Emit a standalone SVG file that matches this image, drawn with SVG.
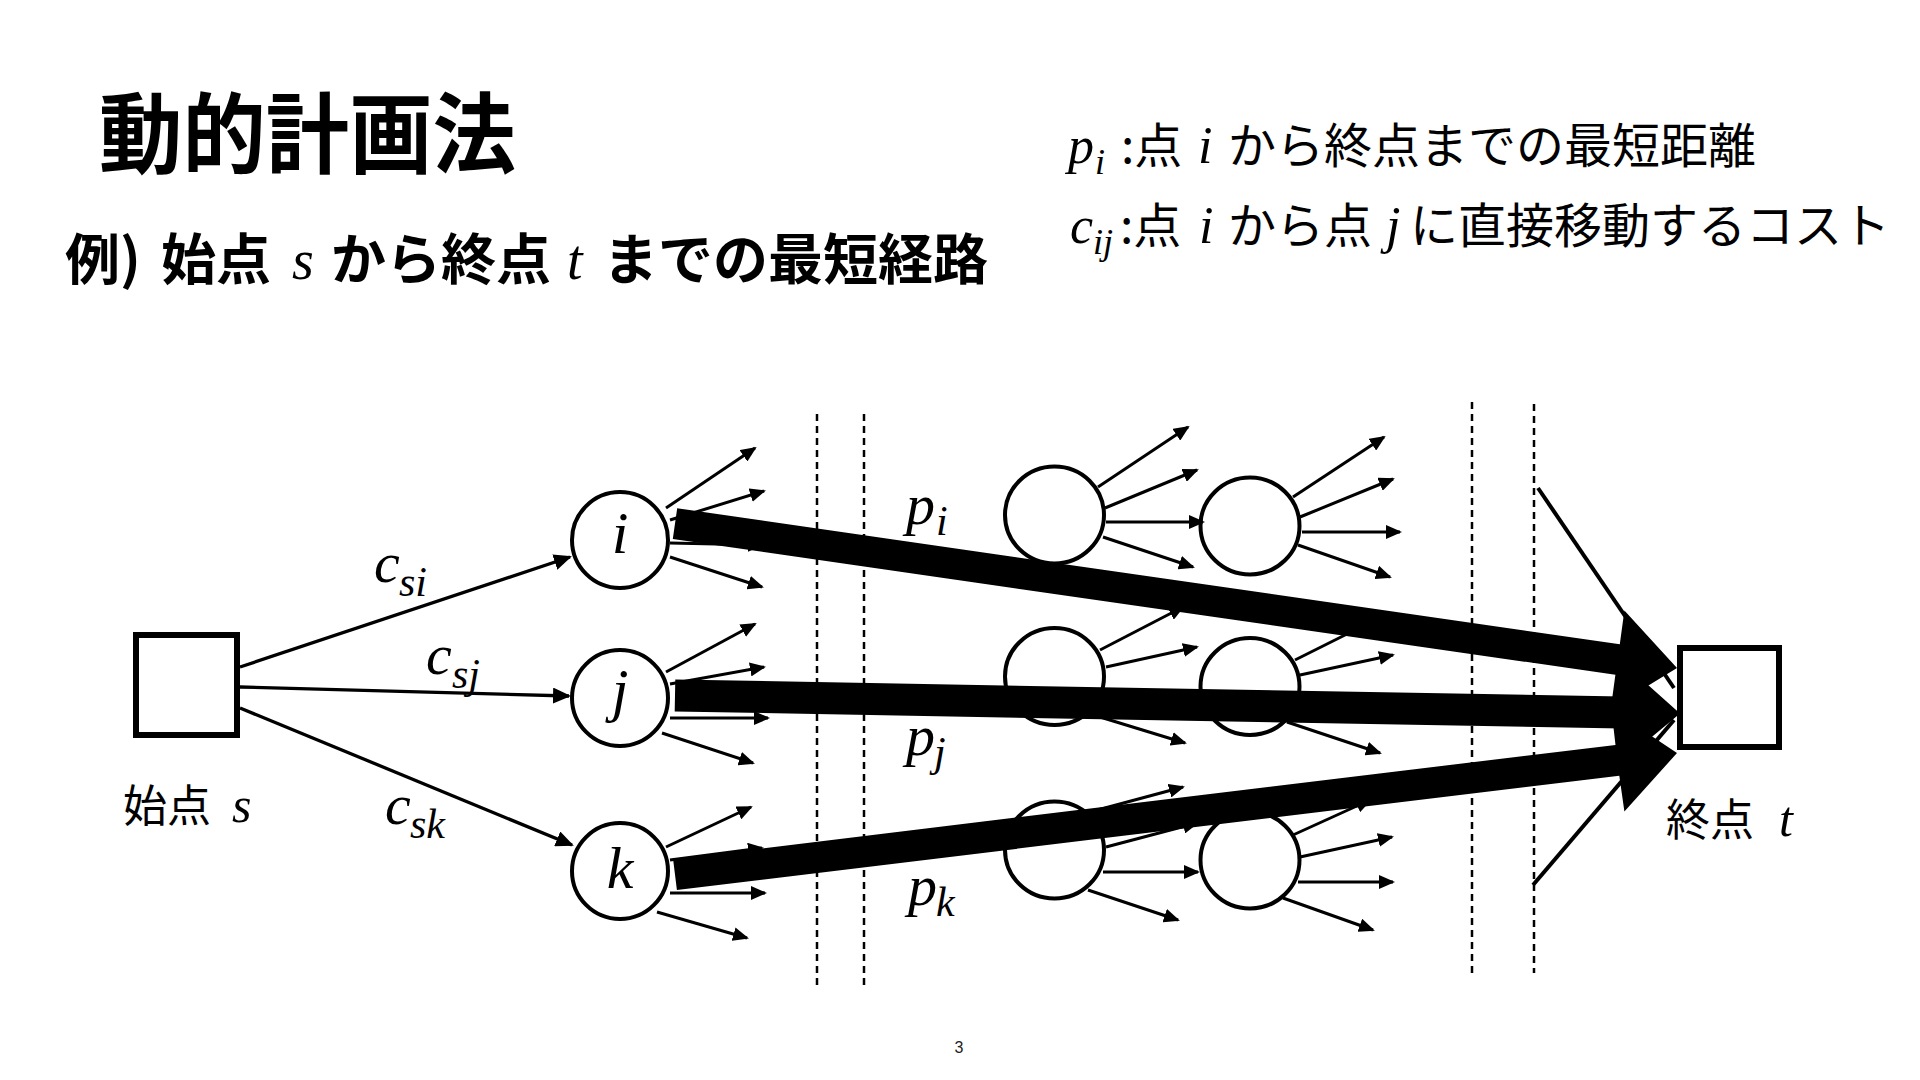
<svg xmlns="http://www.w3.org/2000/svg" width="1920" height="1080" viewBox="0 0 1920 1080">
<style>
.jp{font-family:"Noto Sans CJK JP","Noto Sans CJK SC",sans-serif;fill:#000}
.jpb{font-family:"Noto Sans CJK JP","Noto Sans CJK SC",sans-serif;font-weight:700;fill:#000}
.m{font-family:"Liberation Serif","Times New Roman",serif;font-style:italic;fill:#000}
.node{fill:#fff;stroke:#000;stroke-width:4}
.box{fill:#fff;stroke:#000;stroke-width:6}
.dash{stroke:#000;stroke-width:2.5;stroke-dasharray:7 5;fill:none}
.sa{stroke:#000;stroke-width:3;fill:none;marker-end:url(#ah)}
.ea{stroke:#000;stroke-width:3.3;fill:none;marker-end:url(#ahb)}
.thin{stroke:#000;stroke-width:4;fill:none}
.thick{fill:#000;stroke:none}
</style>
<defs>
<marker id="ah" viewBox="0 0 16 14" refX="14" refY="7" markerWidth="16" markerHeight="14" markerUnits="userSpaceOnUse" orient="auto"><path d="M0,0 L16,7 L0,14 z" fill="#000"/></marker>
<marker id="ahb" viewBox="0 0 18 16" refX="16" refY="8" markerWidth="18" markerHeight="16" markerUnits="userSpaceOnUse" orient="auto"><path d="M0,0 L18,8 L0,16 z" fill="#000"/></marker>
</defs>
<rect width="1920" height="1080" fill="#fff"/>

<text class="jpb" x="99" y="166" font-size="88" textLength="417" lengthAdjust="spacingAndGlyphs">動的計画法</text>
<text y="279"><tspan class="jpb" x="65" font-size="55">例)</tspan><tspan class="jpb" x="161" font-size="55">始点</tspan><tspan class="m" x="292" font-size="56">s</tspan><tspan class="jpb" x="331" font-size="55">から終点</tspan><tspan class="m" x="567" font-size="56">t</tspan><tspan class="jpb" x="603" font-size="55">までの最短経路</tspan></text>

<g id="legend">
<text y="163"><tspan class="m" x="1068" font-size="52">p</tspan><tspan class="m" x="1095" y="174" font-size="36">i</tspan><tspan class="jp" x="1121" y="163" font-size="48">:点</tspan><tspan class="m" x="1198" font-size="52">i</tspan><tspan class="jp" x="1228" font-size="48">から終点までの最短距離</tspan></text>
<text y="243"><tspan class="m" x="1070" font-size="52">c</tspan><tspan class="m" x="1093" y="254" font-size="36">ij</tspan><tspan class="jp" x="1120" y="243" font-size="48">:点</tspan><tspan class="m" x="1199" font-size="52">i</tspan><tspan class="jp" x="1228" font-size="48">から点</tspan><tspan class="m" x="1386" font-size="52">j</tspan><tspan class="jp" x="1410" font-size="48">に直接移動するコスト</tspan></text>
</g>

<g id="stages">
<line class="dash" x1="817" y1="414" x2="817" y2="986"/>
<line class="dash" x1="864" y1="414" x2="864" y2="986"/>
<line class="dash" x1="1472" y1="402" x2="1472" y2="973"/>
<line class="dash" x1="1534" y1="404" x2="1534" y2="973"/>
</g>

<g id="node-s"><rect class="box" x="136" y="635" width="101" height="100"/><text class="jp" x="123" y="822" font-size="44">始点</text><text class="m" x="232" y="822" font-size="50">s</text></g>
<g id="node-t"><rect class="box" x="1680" y="648" width="99" height="99"/><text class="jp" x="1666" y="836" font-size="44">終点</text><text class="m" x="1779" y="836" font-size="50">t</text></g>
<g id="node-i"><circle class="node" cx="620" cy="540" r="48"/><text class="m" x="620" y="553" font-size="60" text-anchor="middle">i</text></g>
<g id="node-j"><circle class="node" cx="620" cy="698" r="48"/><text class="m" x="620" y="710" font-size="60" text-anchor="middle">j</text></g>
<g id="node-k"><circle class="node" cx="620" cy="871" r="48"/><text class="m" x="620" y="888" font-size="60" text-anchor="middle">k</text></g>
<g id="node-e1"><ellipse class="node" cx="1054.5" cy="515" rx="49.5" ry="48.5"/></g>
<g id="node-e2"><ellipse class="node" cx="1250" cy="526" rx="49.5" ry="48.5"/></g>
<g id="node-e3"><ellipse class="node" cx="1054.5" cy="676.5" rx="49.5" ry="48.5"/></g>
<g id="node-e4"><ellipse class="node" cx="1250" cy="686.5" rx="49.5" ry="48.5"/></g>
<g id="node-e5"><ellipse class="node" cx="1054.5" cy="850" rx="49.5" ry="48.5"/></g>
<g id="node-e6"><ellipse class="node" cx="1250" cy="860" rx="49.5" ry="48.5"/></g>

<g id="connectors">
<line class="ea" x1="240" y1="667" x2="570" y2="557"/>
<line class="ea" x1="240" y1="687" x2="569" y2="696"/>
<line class="ea" x1="240" y1="708" x2="572" y2="845"/>
<text class="m" x="374" y="582" font-size="58">c</text><text class="m" x="399" y="596" font-size="42">si</text>
<text class="m" x="426" y="674" font-size="58">c</text><text class="m" x="452" y="688" font-size="42">sj</text>
<text class="m" x="385" y="824" font-size="58">c</text><text class="m" x="410" y="838" font-size="42">sk</text>

<line class="sa" x1="666" y1="508" x2="755" y2="448"/>
<line class="sa" x1="670" y1="520" x2="764" y2="491"/>
<line class="sa" x1="670" y1="543" x2="762" y2="545"/>
<line class="sa" x1="670" y1="557" x2="762" y2="587"/>
<line class="sa" x1="666" y1="672" x2="755" y2="624"/>
<line class="sa" x1="670" y1="684" x2="764" y2="667"/>
<line class="sa" x1="670" y1="718" x2="768" y2="718"/>
<line class="sa" x1="662" y1="733" x2="753" y2="763"/>
<line class="sa" x1="666" y1="847" x2="751" y2="807"/>
<line class="sa" x1="670" y1="860" x2="762" y2="848"/>
<line class="sa" x1="670" y1="893" x2="765" y2="893"/>
<line class="sa" x1="657" y1="912" x2="747" y2="938"/>

<line class="sa" x1="1098" y1="487" x2="1188" y2="427"/>
<line class="sa" x1="1105" y1="508" x2="1197" y2="470"/>
<line class="sa" x1="1106" y1="522" x2="1203" y2="522"/>
<line class="sa" x1="1103" y1="537" x2="1193" y2="567"/>
<line class="sa" x1="1293" y1="497" x2="1384" y2="437"/>
<line class="sa" x1="1300" y1="517" x2="1393" y2="479"/>
<line class="sa" x1="1302" y1="532" x2="1400" y2="532"/>
<line class="sa" x1="1298" y1="545" x2="1390" y2="577"/>
<line class="sa" x1="1100" y1="650" x2="1183" y2="607"/>
<line class="sa" x1="1106" y1="667" x2="1197" y2="647"/>
<line class="sa" x1="1106" y1="700" x2="1198" y2="700"/>
<line class="sa" x1="1100" y1="717" x2="1185" y2="743"/>
<line class="sa" x1="1295" y1="660" x2="1385" y2="615"/>
<line class="sa" x1="1300" y1="675" x2="1393" y2="655"/>
<line class="sa" x1="1302" y1="710" x2="1398" y2="710"/>
<line class="sa" x1="1287" y1="722" x2="1380" y2="753"/>
<line class="sa" x1="1090" y1="812" x2="1183" y2="787"/>
<line class="sa" x1="1106" y1="847" x2="1197" y2="823"/>
<line class="sa" x1="1103" y1="872" x2="1198" y2="872"/>
<line class="sa" x1="1088" y1="890" x2="1178" y2="920"/>
<line class="sa" x1="1293" y1="835" x2="1370" y2="800"/>
<line class="sa" x1="1300" y1="857" x2="1392" y2="837"/>
<line class="sa" x1="1298" y1="882" x2="1393" y2="882"/>
<line class="sa" x1="1283" y1="898" x2="1373" y2="930"/>

<line class="thin" x1="1538" y1="488" x2="1674" y2="688"/>
<line class="thin" x1="1533" y1="885" x2="1674" y2="720"/>

<polygon class="thick" points="677.2,508.3 1619.8,644.2 1624.4,610.4 1677,668 1610.8,708.4 1615.4,674.8 672.8,538.9"/>
<polygon class="thick" points="675.3,679.5 1622.3,696.6 1622.9,662.6 1680,713.5 1621.1,762.6 1621.7,728.6 674.7,711.5"/>
<polygon class="thick" points="673.1,859.2 1615.5,744.9 1611.4,709.3 1677,753 1624.4,811.5 1619.3,775.7 676.9,890"/>

<text class="m" x="906" y="524" font-size="58">p</text><text class="m" x="936" y="535" font-size="42">i</text>
<text class="m" x="906" y="755" font-size="58">p</text><text class="m" x="934" y="766" font-size="42">j</text>
<text class="m" x="908" y="905" font-size="58">p</text><text class="m" x="936" y="916" font-size="42">k</text>
</g>

<text x="959" y="1053" font-family="Liberation Sans, Arial, sans-serif" font-size="16" fill="#222" text-anchor="middle">3</text>
</svg>
